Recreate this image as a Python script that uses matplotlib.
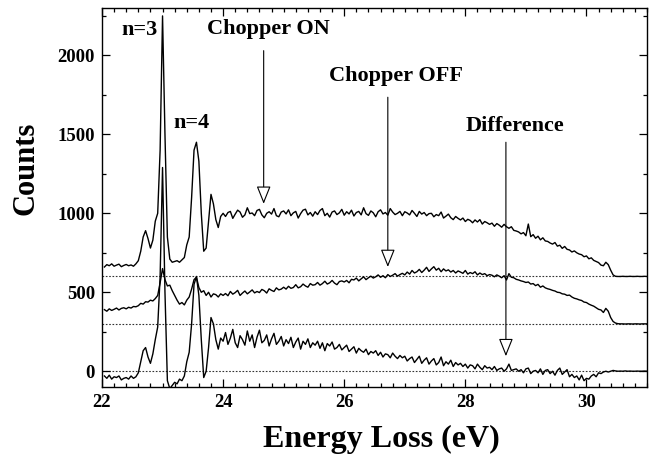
import numpy as np
import matplotlib
matplotlib.use("Agg")
import matplotlib.pyplot as plt
from matplotlib.ticker import MultipleLocator

# ---- data ----
energy = np.round(np.arange(22.04, 31.0001, 0.04), 2)   # eV grid, 225 points

chopper_on = [
    660, 675, 668, 680, 665, 672, 678, 662, 670, 676, 668, 673, 665, 680,
    700, 760, 850, 890, 840, 780, 830, 950, 1000, 1400, 2250, 1500, 850, 710,
    690, 695, 700, 690, 705, 720,
    800, 850, 1100, 1400, 1450, 1330, 1000, 760, 780, 950, 1120, 1060, 960, 910, 980, 1000,
    980, 1005, 1012, 968, 995, 1020, 1008, 975, 990, 1035, 998, 1002, 985,
    1018, 1025, 990, 972, 1000, 1010, 995, 1030, 985, 978, 1008, 1015,
    996, 1022, 985, 1003, 1012, 970, 998, 1020, 1026, 990, 1005, 982,
    1010, 992, 1018, 1030, 985, 1000, 976, 1008, 1015, 992, 1003, 1025,
    988, 1010, 996, 1020, 983, 1005, 1012, 990, 1035, 998, 987, 1015,
    1003, 978, 1010, 1022, 996, 1005, 988, 1030, 1008, 992, 1000, 1012,
    985, 1010, 1002, 990, 1018, 1000, 980, 1012, 995, 1005, 985, 998,
    1000, 978, 992, 985, 1008, 970, 982, 995, 972, 960, 980, 968,
    958, 970, 948, 962, 955, 940, 958, 945, 960, 932, 948, 940,
    930, 938, 918, 935, 925, 912, 930, 915, 905, 915, 892, 888,
    882, 870, 878, 858, 932, 852, 865, 842, 855, 832, 845, 825,
    822, 812, 805, 815, 792, 798, 778, 790, 772, 768, 755, 762,
    750, 742, 738, 725, 730, 712, 718, 702, 695, 688, 672, 668,
    690, 675, 640, 610, 601, 600, 600, 601, 600, 600, 601, 600,
    600, 601, 600, 600, 601, 600,
]

chopper_off = [
    390, 380, 395, 385, 392, 400, 388, 398, 402, 395, 405, 400, 410, 408,
    415, 430, 425, 440, 438, 450, 445, 460, 480, 560, 650, 580, 540, 545,
    510, 480, 450, 425, 435, 420,
    450, 470, 520, 580, 595, 530, 500, 510, 480, 500, 470, 490, 485, 470, 490, 480,
    492, 478, 505, 488, 498, 512, 480, 495, 508, 490, 502, 515, 496,
    505, 498, 518, 510, 495, 522, 512, 505, 528, 515, 520, 532,
    520, 538, 525, 530, 548, 528, 535, 552, 540, 532, 555, 545,
    548, 562, 545, 555, 570, 552, 560, 575, 558, 548, 568, 572,
    565, 575, 560, 582, 578, 590, 572, 585, 598, 580, 592, 602,
    590, 598, 610, 595, 605, 592, 612, 600, 608, 618, 602, 612,
    620, 610, 628, 615, 638, 622, 630, 645, 625, 640, 658, 632,
    648, 662, 640, 652, 630, 648, 635, 642, 628, 638, 622, 635,
    628, 620, 638, 615, 625, 618, 630, 610, 622, 612, 618, 605,
    612, 608, 598, 610, 602, 592, 605, 578, 618, 595, 592, 582,
    578, 572, 568, 562, 565, 552, 555, 542, 550, 532, 540, 528,
    522, 518, 512, 508, 500, 498, 490, 488, 480, 482, 470, 462,
    458, 452, 448, 438, 435, 425, 418, 412, 402, 392, 388, 372,
    398, 380, 340, 315, 305, 301, 300, 300, 299, 300, 300, 299,
    300, 300, 299, 300, 300, 300,
]

difference = [
    -30, -45, -25, -50, -35, -40, -30, -55, -45, -40, -50, -30, -45, -35,
    -10, 60, 130, 150, 90, 50, 110, 200, 280, 600, 1290, 500, -60, -110,
    -90, -70, -80, -50, -60, -30,
    60, 120, 300, 550, 600, 480, 200, -40, 0, 150, 340, 300, 200, 140, 210, 190,
    245, 170, 210, 265, 180, 150, 225, 200, 165, 255, 190, 230, 150,
    215, 260, 180, 195, 230, 160, 205, 240, 170, 190, 220, 160,
    200, 175, 215, 150, 185, 210, 140, 190, 170, 205, 150, 180,
    165, 190, 145, 180, 130, 175, 160, 185, 140, 150, 170, 135,
    150, 165, 125, 140, 155, 115, 145, 130, 120, 140, 105, 125,
    115, 130, 100, 120, 90, 110, 105, 85, 115, 95, 80, 100,
    85, 95, 65, 80, 90, 55, 75, 95, 50, 70, 85, 45,
    65, 80, 40, 55, 90, 35, 60, 45, 70, 30, 55, 40,
    50, 30, 45, 20, 40, 35, 15, 45, 25, 10, 35, 20,
    25, 10, 30, 5, 15, 20, 0, 15, 45, 5, 10, 15,
    0, 10, -10, 15, 20, -15, 0, 5, -10, 15, -20, 5,
    10, -15, 0, -25, 5, 20, -20, -5, 10, -35, -20, -40,
    -30, -55, -25, -60, -45, -50, -30, -20, -35, -10, -15, -5,
    0, -5, 0, 5, 2, 0, 1, 0, 2, 0, 1, 0,
    0, 1, 0, 0, 1, 0,
]

baselines = [600, 300, 0]

# annotations: (label, label_x, label_y, arrow_x, arrow_top, arrow_tip)
arrow_labels = [
    ("Chopper ON", 24.75, 2170, 24.67, 2030, 1060),
    ("Chopper OFF", 26.85, 1870, 26.72, 1735, 660),
    ("Difference", 28.82, 1555, 28.67, 1450, 95),
]
peak_labels = [("n=3", 22.62, 2160), ("n=4", 23.48, 1575)]

# ---- plot ----
plt.rcParams['font.family'] = ['Liberation Serif', 'DejaVu Serif']
plt.rcParams['font.weight'] = 'bold'

fig = plt.figure(figsize=(6.55, 4.63), dpi=100)
ax = fig.add_axes([0.1557, 0.1641, 0.8321, 0.8186])

for b in baselines:
    ax.axhline(b, color='0.2', lw=0.8, ls=(0, (1.5, 1.5)), zorder=1)

for series in (chopper_on, chopper_off, difference):
    ax.plot(energy, series, color='black', lw=1.0, zorder=2)

for text, tx, ty, axx, atop, atip in arrow_labels:
    ax.text(tx, ty, text, ha='center', va='center', fontsize=16, fontweight='bold')
    ax.annotate('', xy=(axx, atip), xytext=(axx, atop),
                arrowprops=dict(arrowstyle='-|>,head_length=1.0,head_width=0.4',
                                mutation_scale=11, fc='white', ec='black',
                                lw=0.8, shrinkA=0, shrinkB=0), zorder=3)
for text, tx, ty in peak_labels:
    ax.text(tx, ty, text, ha='center', va='center', fontsize=16, fontweight='bold')

ax.set_xlim(22, 31)
ax.set_ylim(-100, 2300)
ax.xaxis.set_major_locator(MultipleLocator(2))
ax.xaxis.set_minor_locator(MultipleLocator(0.2))
ax.yaxis.set_major_locator(MultipleLocator(500))
ax.yaxis.set_minor_locator(MultipleLocator(250))
ax.tick_params(which='both', direction='in', top=True, right=True,
               labelsize=13.5, width=0.9)
ax.tick_params(which='major', length=5.5, pad=5)
ax.tick_params(which='minor', length=3)
for lab in ax.get_xticklabels() + ax.get_yticklabels():
    lab.set_fontweight('bold')
for s in ax.spines.values():
    s.set_linewidth(1.0)

fig.text(0.040, 0.637, 'Counts', rotation=90, ha='center', va='center',
         fontsize=22, fontweight='bold')
fig.text(0.582, 0.050, 'Energy Loss (eV)', ha='center', va='center',
         fontsize=23, fontweight='bold')

fig.savefig('out.png', dpi=100)
